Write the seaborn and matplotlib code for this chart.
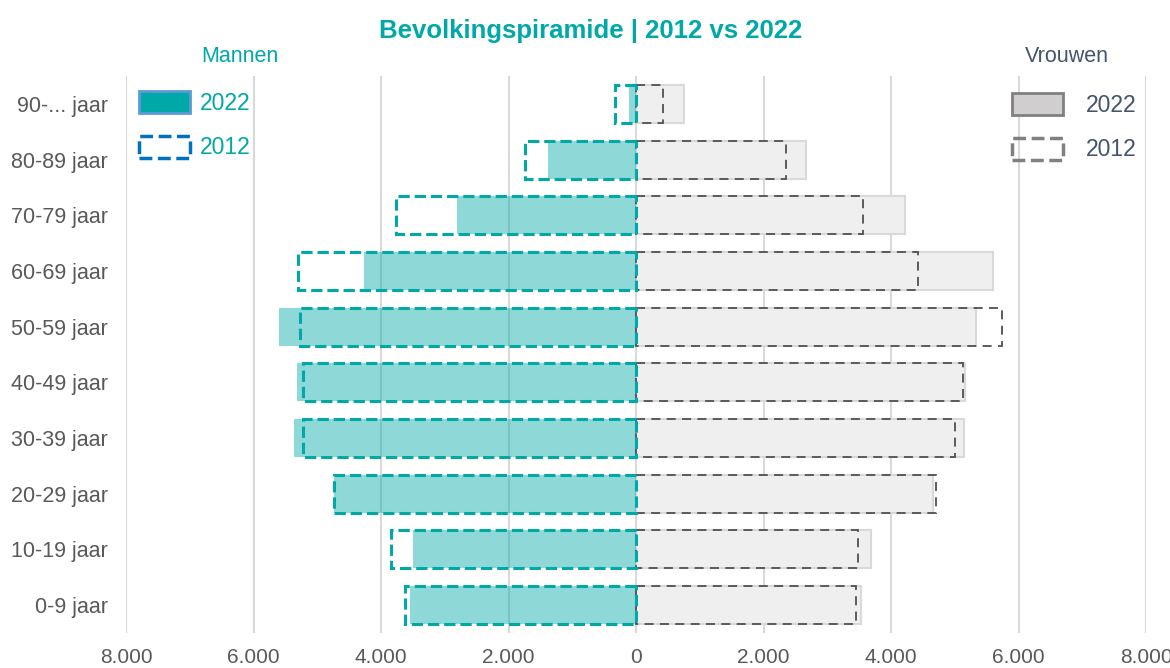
import numpy as np
import pandas as pd
import matplotlib
matplotlib.use("Agg")
import matplotlib.pyplot as plt
from matplotlib.patches import Patch
from matplotlib.ticker import FuncFormatter, MultipleLocator
import seaborn as sns

ages = ["90-... jaar", "80-89 jaar", "70-79 jaar", "60-69 jaar", "50-59 jaar",
        "40-49 jaar", "30-39 jaar", "20-29 jaar", "10-19 jaar", "0-9 jaar"]

men_2022 = [110, 1380, 2810, 4270, 5600, 5320, 5370, 4740, 3500, 3545]
men_2012 = [330, 1740, 3760, 5300, 5270, 5220, 5230, 4740, 3850, 3620]
women_2022 = [750, 2670, 4220, 5600, 5330, 5160, 5145, 4660, 3690, 3530]
women_2012 = [420, 2350, 3560, 4420, 5740, 5130, 5000, 4700, 3480, 3450]

TEAL = "#00A8A8"
SLATE = "#44546A"
GREY_TXT = "#595959"

sns.set_theme(style="white")
plt.rcParams["font.family"] = ["Liberation Sans", "DejaVu Sans"]

df = pd.DataFrame({
    "age": ages,
    "men_2022": -np.array(men_2022),
    "men_2012": -np.array(men_2012),
    "women_2022": women_2022,
    "women_2012": women_2012,
})

fig = plt.figure(figsize=(11.7, 6.68), dpi=100)
ax = fig.add_axes([0.1077, 0.0527, 0.8718, 0.8332])

bar_w = 0.68

# women
sns.barplot(data=df, x="women_2022", y="age", order=ages, orient="h", ax=ax,
            color="#EFEFEF", saturation=1, width=bar_w,
            edgecolor="#D9D9D9", linewidth=1.5, zorder=2)
sns.barplot(data=df, x="women_2012", y="age", order=ages, orient="h", ax=ax,
            color="#505050", saturation=1, width=bar_w, fill=False,
            linestyle=(0, (5, 3.5)), linewidth=1.3, zorder=3)

# men
sns.barplot(data=df, x="men_2022", y="age", order=ages, orient="h", ax=ax,
            color=TEAL, saturation=1, width=bar_w, alpha=0.44,
            linewidth=0, zorder=2)
sns.barplot(data=df, x="men_2012", y="age", order=ages, orient="h", ax=ax,
            color=TEAL, saturation=1, width=bar_w, fill=False,
            linestyle="--", linewidth=2.2, zorder=3)

ax.set_xlim(-8000, 8000)
ax.set_ylim(9.5, -0.5)
ax.xaxis.set_major_locator(MultipleLocator(2000))
ax.xaxis.set_major_formatter(FuncFormatter(lambda v, p: f"{abs(int(round(v))):,}".replace(",", ".")))
ax.grid(axis="x", color="#D9D9D9", linewidth=1.5, zorder=0)
ax.set_axisbelow(True)
for s in ax.spines.values():
    s.set_visible(False)
ax.set_xlabel("")
ax.set_ylabel("")
ax.tick_params(axis="both", length=0)
ax.tick_params(axis="y", labelsize=15.5, labelcolor=GREY_TXT, pad=13)
ax.tick_params(axis="x", labelsize=15, labelcolor=GREY_TXT, pad=11)

fig.text(0.505, 0.953, "Bevolkingspiramide | 2012 vs 2022", ha="center", va="center",
         fontsize=18.5, fontweight="bold", color=TEAL)
fig.text(240 / 1170, 1 - 57 / 668, "Mannen", ha="center", va="center",
         fontsize=15.5, color=TEAL)
fig.text(1067 / 1170, 1 - 57 / 668, "Vrouwen", ha="center", va="center",
         fontsize=15.5, color=SLATE)

men_handles = [
    Patch(facecolor=TEAL, edgecolor="#5B9BD5", linewidth=2, label="2022"),
    Patch(facecolor="none", edgecolor="#0070C0", linestyle="--", linewidth=2.5, label="2012"),
]
women_handles = [
    Patch(facecolor="#D0CECE", edgecolor="#808080", linewidth=2, label="2022"),
    Patch(facecolor="none", edgecolor="#808080", linestyle="--", linewidth=2.5, label="2012"),
]

leg1 = ax.legend(handles=men_handles, loc="upper left",
                 bbox_to_anchor=(130 / 1170, 1 - 82 / 668), bbox_transform=fig.transFigure,
                 frameon=False, fontsize=16.5, labelcolor=TEAL,
                 handlelength=2.2, handleheight=1.1, labelspacing=0.9, handletextpad=0.45,
                 borderaxespad=0)
ax.add_artist(leg1)
ax.legend(handles=women_handles, loc="upper left",
          bbox_to_anchor=(1003 / 1170, 1 - 84 / 668), bbox_transform=fig.transFigure,
          frameon=False, fontsize=16.5, labelcolor=SLATE,
          handlelength=2.2, handleheight=1.1, labelspacing=0.9, handletextpad=1.0,
          borderaxespad=0)

fig.savefig("out.png", dpi=100)
